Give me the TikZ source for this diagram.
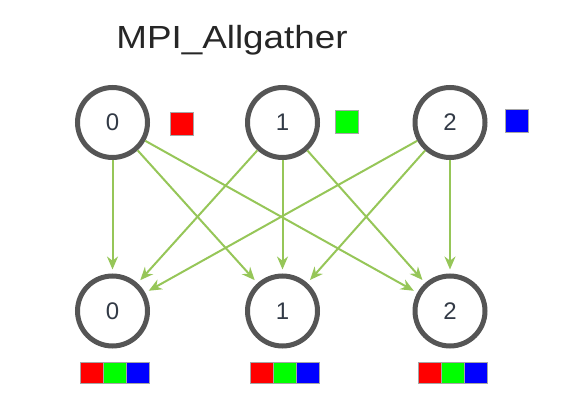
\documentclass[tikz,border=0pt]{standalone}
\usepackage{fontspec}
\setmainfont{Liberation Sans}
\usetikzlibrary{arrows.meta}
\definecolor{arrowgreen}{RGB}{150,198,88}
\definecolor{ringgray}{RGB}{85,85,85}
\definecolor{digitcol}{RGB}{50,58,70}
\tikzset{
  proc/.style={circle,draw=ringgray,line width=5pt,minimum size=70pt,inner sep=0pt,
    font=\fontsize{24}{24}\selectfont,text=digitcol},
  flow/.style={draw=arrowgreen,line width=2pt,-{Stealth[length=13pt,width=11pt]},shorten >=4pt},
  cell/.style={draw=black!35,line width=0.6pt,minimum width=23pt,minimum height=21pt,inner sep=0pt,outer sep=0pt},
}
\begin{document}
\begin{tikzpicture}[x=1pt,y=1pt]
\useasboundingbox (0,0) rectangle (567,413);
\node[font=\fontsize{32}{32}\selectfont,text=black!85] (title) at (232,373) {\scalebox{1.15}[1]{MPI\_Allgather}};
% top row
\node[proc] (t0) at (112.5,290.5) {0};
\node[proc] (t1) at (282.5,290.5) {1};
\node[proc] (t2) at (450,290.5) {2};
% bottom row
\node[proc] (b0) at (112.5,102) {0};
\node[proc] (b1) at (282.5,102) {1};
\node[proc] (b2) at (450,102) {2};
% single data blocks
\node[cell,fill=red,minimum height=23pt] (r0) at (181.5,289.5) {};
\node[cell,fill=green,minimum height=23pt] (g1) at (347,291) {};
\node[cell,fill=blue,minimum height=23pt] (u2) at (516.5,292) {};
% gathered blocks
\foreach \n/\x in {0/115,1/285,2/453}{
  \node[cell,fill=green] (bg\n) at (\x,40.5) {};
  \node[cell,fill=red,anchor=east] (br\n) at (bg\n.west) {};
  \node[cell,fill=blue,anchor=west] (bb\n) at (bg\n.east) {};
}
% arrows
\foreach \s in {0,1,2}{
  \foreach \d in {0,1,2}{
    \draw[flow] (t\s) -- (b\d);
  }
}
\end{tikzpicture}
\end{document}
